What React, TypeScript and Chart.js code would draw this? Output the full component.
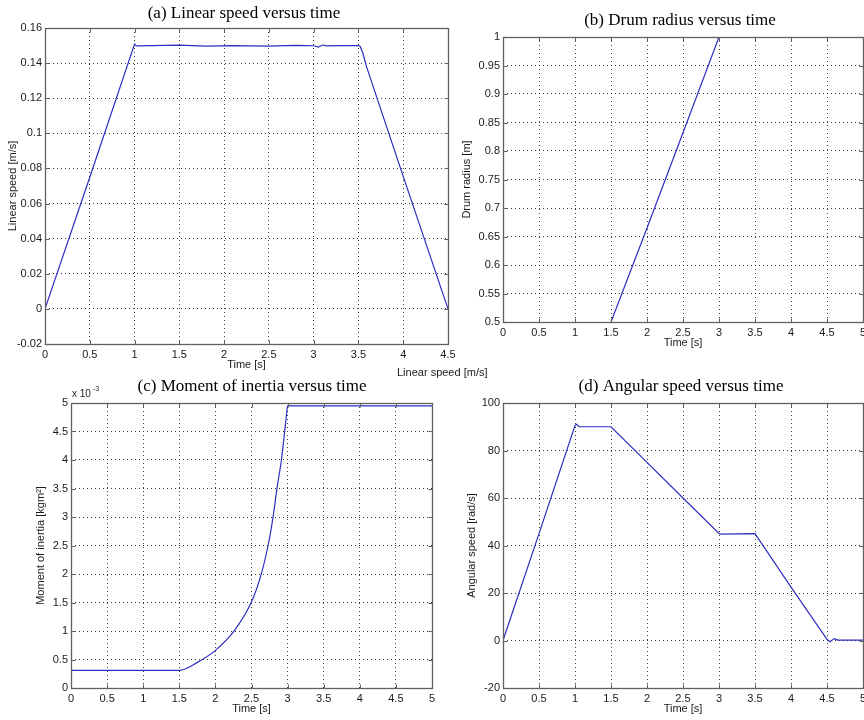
import React, { useEffect, useRef } from "react";
import { Chart, registerables } from "chart.js";
Chart.register(...registerables);

// ---------- (a) Linear speed versus time ----------
const timeA = [0, 0.5, 1.0, 1.02, 1.2, 1.5, 1.8, 2.1, 2.5, 2.8, 3.0, 3.05, 3.1, 3.15, 3.3, 3.5, 3.52, 3.55, 3.59, 4.0, 4.5];
const speedA = [0, 0.075, 0.1508, 0.1498, 0.15, 0.1502, 0.1497, 0.15, 0.1497, 0.1501, 0.1499, 0.1491, 0.1503, 0.1498, 0.15, 0.15, 0.1495, 0.1456, 0.138, 0.0755, 0];
const timeTicksA = [0, 0.5, 1, 1.5, 2, 2.5, 3, 3.5, 4, 4.5];
const speedTicks = [-0.02, 0, 0.02, 0.04, 0.06, 0.08, 0.1, 0.12, 0.14, 0.16];

// ---------- (b) Drum radius versus time ----------
const timeB = [1.5, 2.0, 2.5, 3.0];
const radiusB = [0.5, 0.665, 0.832, 1.0];
const timeTicks5 = [0, 0.5, 1, 1.5, 2, 2.5, 3, 3.5, 4, 4.5, 5];
const radiusTicks = [0.5, 0.55, 0.6, 0.65, 0.7, 0.75, 0.8, 0.85, 0.9, 0.95, 1];

// ---------- (c) Moment of inertia versus time (x 10^-3) ----------
const timeC = [0, 1.5, 1.75, 2.0, 2.27, 2.51, 2.64, 2.73, 2.8, 2.854, 2.914, 2.955, 2.985, 3.0, 5.0];
const inertiaC = [0.31, 0.31, 0.45, 0.66, 1.02, 1.54, 2.02, 2.5, 3.01, 3.51, 4.0, 4.45, 4.8, 4.95, 4.95];
const inertiaTicks = [0, 0.5, 1, 1.5, 2, 2.5, 3, 3.5, 4, 4.5, 5];

// ---------- (d) Angular speed versus time ----------
const timeD = [0, 0.5, 1.0, 1.02, 1.06, 1.5, 2.0, 2.5, 3.0, 3.03, 3.5, 4.0, 4.5, 4.54, 4.6, 4.65, 5.0];
const omegaD = [0, 45, 90.5, 91, 90, 90, 75, 60, 45.1, 44.8, 45, 22.5, 0.5, -0.5, 0.8, 0.2, 0.2];
const omegaTicks = [-20, 0, 20, 40, 60, 80, 100];

const LINE = "#2e2ec0";
const AXIS = "#606060";
const SANS = '"Liberation Sans", Arial, sans-serif';
const SERIF = '"Liberation Serif", "Times New Roman", serif';

const fmt = (v: number) => String(Math.round(v * 1e6) / 1e6);

const framePlugin = {
  id: "frame",
  afterDraw(chart: any, _args: any, opts: any) {
    const { ctx, chartArea: a, scales } = chart;
    const xs = scales.x, ys = scales.y;
    ctx.save();
    ctx.strokeStyle = AXIS;
    ctx.lineWidth = 1;
    const L = Math.round(a.left) + 0.5, R = Math.round(a.right) + 0.5;
    const T = Math.round(a.top) + 0.5, B = Math.round(a.bottom) + 0.5;
    ctx.beginPath();
    xs.ticks.forEach((t: any) => {
      const px = Math.round(xs.getPixelForValue(t.value)) + 0.5;
      ctx.moveTo(px, B); ctx.lineTo(px, B - 4);
      ctx.moveTo(px, T); ctx.lineTo(px, T + 4);
    });
    ys.ticks.forEach((t: any) => {
      const py = Math.round(ys.getPixelForValue(t.value)) + 0.5;
      ctx.moveTo(L, py); ctx.lineTo(L + 4, py);
      ctx.moveTo(R, py); ctx.lineTo(R - 4, py);
    });
    ctx.stroke();
    ctx.lineWidth = 1.3;
    ctx.strokeRect(L, T, R - L, B - T);
    ctx.fillStyle = "#000";
    ctx.font = `17px ${SERIF}`;
    ctx.textAlign = "center";
    ctx.textBaseline = "middle";
    ctx.fillText(opts.title, opts.tx, opts.ty);
    if (opts.exponent) {
      ctx.fillStyle = "#222";
      ctx.textAlign = "left";
      ctx.font = `10px ${SANS}`;
      ctx.fillText("x 10", opts.ex, opts.ey);
      ctx.font = `7px ${SANS}`;
      ctx.fillText("-3", opts.ex + 21, opts.ey - 5);
    }
    ctx.restore();
  },
};

type PanelProps = {
  L: number; T: number; R: number; B: number;
  yw: number; padTop: number; padRight: number;
  xs: number[]; ys: number[];
  xTicks: number[]; yTicks: number[];
  yTitle: string; yTitlePad: number;
  title: string; titleX: number; titleY: number;
  monotone?: boolean; exponent?: boolean;
};

function Panel(p: PanelProps) {
  const ref = useRef<HTMLCanvasElement>(null);
  const cl = p.L - p.yw;
  const ct = p.T - p.padTop;
  const width = p.R + p.padRight - cl;
  const height = p.B + 28 - ct;
  useEffect(() => {
    const chart = new Chart(ref.current as HTMLCanvasElement, {
      type: "line",
      data: {
        datasets: [
          {
            data: p.xs.map((x, i) => ({ x, y: p.ys[i] })),
            borderColor: LINE,
            borderWidth: 1.2,
            pointRadius: 0,
            fill: false,
            tension: 0,
            cubicInterpolationMode: p.monotone ? "monotone" : "default",
          } as any,
        ],
      },
      options: {
        animation: false,
        responsive: false,
        maintainAspectRatio: false,
        layout: { padding: { left: 0, top: p.padTop, right: p.padRight, bottom: 0 } },
        plugins: {
          legend: { display: false },
          tooltip: { enabled: false },
          title: { display: false },
          frame: {
            title: p.title,
            tx: p.titleX - cl,
            ty: p.titleY - ct,
            exponent: p.exponent,
            ex: 72 - cl,
            ey: 394 - ct,
          },
        } as any,
        scales: {
          x: {
            type: "linear",
            min: p.xTicks[0],
            max: p.xTicks[p.xTicks.length - 1],
            afterBuildTicks: (s: any) => { s.ticks = p.xTicks.map((v) => ({ value: v })); },
            afterFit: (s: any) => { s.height = 28; },
            grid: { display: true, drawTicks: false, color: "#3a3a3a", lineWidth: 1 },
            border: { display: false, dash: [1, 3] },
            ticks: { autoSkip: false, maxRotation: 0, padding: 4, color: "#1a1a1a", font: { family: SANS, size: 11 }, callback: (v: any) => fmt(Number(v)) },
            title: { display: true, text: "Time [s]", color: "#1a1a1a", font: { family: SANS, size: 11 }, padding: { top: 0, bottom: 0.5 } },
          },
          y: {
            type: "linear",
            min: p.yTicks[0],
            max: p.yTicks[p.yTicks.length - 1],
            afterBuildTicks: (s: any) => { s.ticks = p.yTicks.map((v) => ({ value: v })); },
            afterFit: (s: any) => { s.width = p.yw; },
            grid: { display: true, drawTicks: false, color: "#3a3a3a", lineWidth: 1 },
            border: { display: false, dash: [1, 3] },
            ticks: { autoSkip: false, padding: 3, color: "#1a1a1a", font: { family: SANS, size: 11 }, callback: (v: any) => fmt(Number(v)) },
            title: { display: true, text: p.yTitle, color: "#1a1a1a", font: { family: SANS, size: 11 }, padding: { top: p.yTitlePad, bottom: 0 } },
          },
        },
      } as any,
      plugins: [framePlugin as any],
    });
    return () => chart.destroy();
  }, []);
  return (
    <canvas
      ref={ref}
      width={width}
      height={height}
      style={{ position: "absolute", left: cl, top: ct, width, height }}
    />
  );
}

export default function App() {
  return (
    <div style={{ position: "fixed", left: 0, top: 0, width: 864, height: 720, overflow: "hidden", background: "#fff" }}>
      <Panel L={45} T={28} R={448} B={344} yw={45} padTop={28} padRight={12}
        xs={timeA} ys={speedA} xTicks={timeTicksA} yTicks={speedTicks}
        yTitle="Linear speed [m/s]" yTitlePad={6.8}
        title="(a) Linear speed versus time" titleX={244} titleY={14} />
      <Panel L={503} T={37} R={863} B={322} yw={60} padTop={30} padRight={20}
        xs={timeB} ys={radiusB} xTicks={timeTicks5} yTicks={radiusTicks}
        yTitle="Drum radius [m]" yTitlePad={17.1}
        title="(b) Drum radius versus time" titleX={680} titleY={21} />
      <Panel L={71} T={403} R={432} B={688} yw={71} padTop={30} padRight={12}
        xs={timeC} ys={inertiaC} xTicks={timeTicks5} yTicks={inertiaTicks}
        yTitle="Moment of inertia [kgm²]" yTitlePad={34.1} monotone exponent
        title="(c) Moment of inertia versus time" titleX={252} titleY={387} />
      <Panel L={503} T={403} R={863} B={688} yw={60} padTop={30} padRight={20}
        xs={timeD} ys={omegaD} xTicks={timeTicks5} yTicks={omegaTicks}
        yTitle="Angular speed [rad/s]" yTitlePad={22.7}
        title="(d) Angular speed versus time" titleX={681} titleY={387} />
      <span style={{ position: "absolute", left: 397, top: 365, font: `11px ${SANS}`, lineHeight: "14px", color: "#1a1a1a", whiteSpace: "nowrap" }}>
        Linear speed [m/s]
      </span>
    </div>
  );
}
